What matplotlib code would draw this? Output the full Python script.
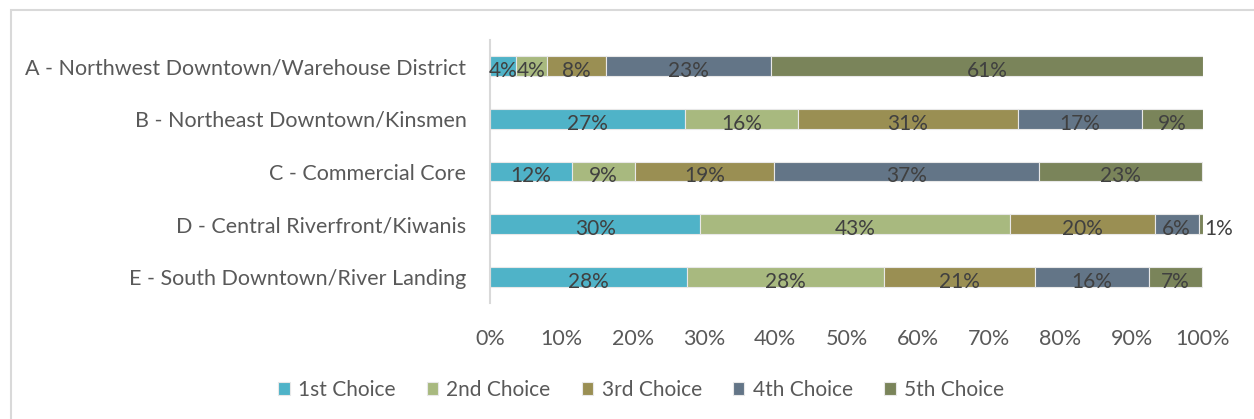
import matplotlib
matplotlib.use("Agg")
import matplotlib.pyplot as plt
from matplotlib.patches import Rectangle
from matplotlib.ticker import FuncFormatter

plt.rcParams['font.family'] = ['Lato', 'DejaVu Sans']

categories = [
    "A - Northwest Downtown/Warehouse District",
    "B - Northeast Downtown/Kinsmen",
    "C - Commercial Core",
    "D - Central Riverfront/Kiwanis",
    "E - South Downtown/River Landing",
]
series_names = ["1st Choice", "2nd Choice", "3rd Choice", "4th Choice", "5th Choice"]
first = [3.6, 27.3, 11.5, 29.5, 27.6]
second = [4.4, 15.9, 8.9, 43.4, 27.6]
third = [8.2, 30.8, 19.4, 20.3, 21.2]
fourth = [23.2, 17.4, 37.2, 6.2, 16.0]
fifth = [60.6, 8.6, 22.8, 0.6, 7.4]
xticks = [0, 10, 20, 30, 40, 50, 60, 70, 80, 90, 100]

series = [first, second, third, fourth, fifth]
colors = ["#4FB3C8", "#A8B97F", "#9A8F53", "#637587", "#7A845A"]

W, H = 1254, 419
fig = plt.figure(figsize=(W / 100, H / 100), dpi=100)
fig.patches.append(Rectangle((11 / W, -0.1), 1.2, 1 - 10 / H + 0.1, transform=fig.transFigure,
                             fill=False, edgecolor="#D9D9D9", linewidth=1.5, zorder=0))

ax = fig.add_axes([490 / W, 1 - 303 / H, (1203 - 490) / W, (303 - 40) / H])
ypos = list(range(len(categories)))
left = [0.0] * len(categories)
for vals, name, col in zip(series, series_names, colors):
    ax.barh(ypos, vals, left=left, height=0.38, color=col, edgecolor="#E8E8E8",
            linewidth=0.8, label=name)
    for i, v in enumerate(vals):
        txt = f"{round(v):d}%"
        if v < 2:
            ax.annotate(txt, (left[i] + v, i), xytext=(1, -3.5), textcoords="offset points",
                        ha="left", va="center", fontsize=15, color="#404040")
        else:
            ax.annotate(txt, (left[i] + v / 2, i), xytext=(0, -3.5), textcoords="offset points",
                        ha="center", va="center", fontsize=15, color="#404040")
    left = [l + v for l, v in zip(left, vals)]

ax.set_xlim(0, 100)
ax.set_ylim(len(categories) - 0.5, -0.5)
ax.set_yticks(ypos)
ax.set_yticklabels(categories, fontsize=15.5)
ax.set_xticks(xticks)
ax.xaxis.set_major_formatter(FuncFormatter(lambda x, p: f"{int(x)}%"))
ax.tick_params(axis="both", length=0, labelcolor="#595959")
ax.tick_params(axis="x", pad=19, labelsize=15.5)
ax.tick_params(axis="y", pad=17)
for s in ["top", "right", "bottom"]:
    ax.spines[s].set_visible(False)
ax.spines["left"].set_color("#D9D9D9")
ax.spines["left"].set_linewidth(1.5)

handles, labels = ax.get_legend_handles_labels()
fig.legend(handles, labels, loc="center", bbox_to_anchor=(641 / W, 1 - 390 / H), ncol=5,
           frameon=False, fontsize=15, labelcolor="#595959", handlelength=0.55,
           handleheight=0.55, handletextpad=0.4, columnspacing=1.5)

fig.savefig("out.png", dpi=100)
